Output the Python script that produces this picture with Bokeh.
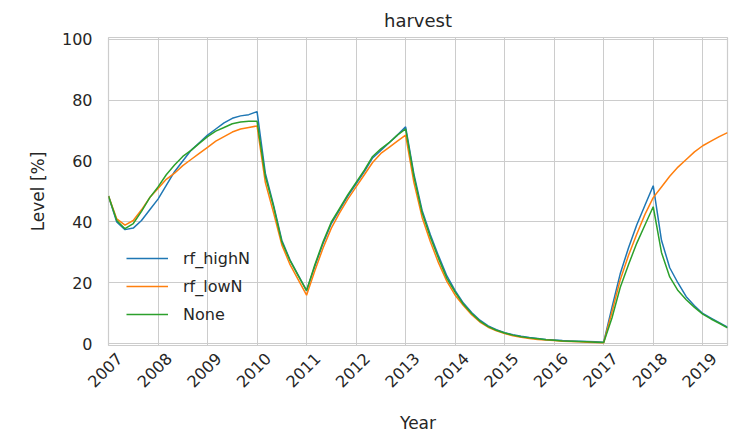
import math
from bokeh.plotting import figure
from bokeh.models import (Range1d, FixedTicker, Legend, LegendItem, ColumnDataSource,
                          CustomJSTickFormatter)
from bokeh.embed import file_html
from bokeh.resources import INLINE

# time index: every two months from Jan 2007 to Jul 2019
n_points = 76
time = [2007 + i / 6 for i in range(n_points)]

rf_highN = [
    48.5, 40.0, 37.5, 38.0, 40.5, 44.0,
    47.5, 52.0, 56.5, 60.0, 63.5, 66.0,
    68.5, 70.5, 72.5, 74.0, 74.8, 75.2,
    76.2, 56.0, 45.5, 34.0, 27.5, 22.5,
    17.5, 25.5, 33.0, 39.5, 44.0, 48.5,
    52.5, 56.5, 61.0, 63.5, 66.0, 68.5,
    71.2, 55.8, 43.8, 35.8, 28.8, 22.3,
    17.5, 13.4, 10.3, 7.8, 5.9, 4.7,
    3.7, 3.0, 2.5, 2.1, 1.8, 1.5,
    1.3, 1.1, 1.0, 0.9, 0.8, 0.7,
    0.6, 12.0, 23.0, 31.5, 39.0, 45.5,
    51.9, 34.0, 25.0, 20.0, 15.5, 12.5,
    10.0, 8.5, 7.0, 5.5,
]

rf_lowN = [
    48.5, 41.0, 39.0, 40.5, 44.0, 48.0,
    51.0, 54.0, 56.0, 58.5, 60.5, 62.5,
    64.5, 66.5, 68.0, 69.5, 70.5, 71.0,
    71.5, 53.0, 43.0, 32.5, 26.0, 21.0,
    16.0, 24.0, 31.5, 38.0, 43.0, 47.5,
    51.5, 55.5, 59.5, 62.5, 64.5, 66.5,
    68.5, 53.0, 41.5, 33.5, 26.5, 20.5,
    16.0, 12.6, 9.6, 7.2, 5.5, 4.3,
    3.4, 2.7, 2.2, 1.8, 1.5, 1.3,
    1.1, 0.9, 0.8, 0.7, 0.6, 0.5,
    0.4, 10.5, 21.0, 29.0, 36.0, 42.5,
    48.0, 51.5, 55.0, 58.0, 60.5, 63.0,
    65.0, 66.5, 68.0, 69.3,
]

none = [
    48.5, 40.5, 37.8, 39.5, 43.5, 48.0,
    51.5, 55.5, 58.7, 61.5, 63.5, 65.8,
    68.0, 69.8, 71.0, 72.2, 72.8, 73.0,
    73.0, 55.0, 45.0, 33.5, 27.3, 22.3,
    17.5, 26.0, 33.5, 40.0, 44.5, 49.0,
    53.0, 57.0, 61.5, 64.0, 66.0, 68.5,
    70.5, 55.0, 43.0, 35.0, 28.0, 21.5,
    17.0, 13.0, 10.0, 7.5, 5.7, 4.5,
    3.6, 2.9, 2.4, 2.0, 1.7, 1.4,
    1.2, 1.0, 0.9, 0.8, 0.7, 0.6,
    0.5, 8.5, 18.5, 26.0, 33.0, 39.0,
    45.0, 30.0, 22.0, 17.5, 14.5, 12.0,
    9.8, 8.2, 6.8, 5.3,
]

year_ticks = list(range(2007, 2020))
y_ticks = [0, 20, 40, 60, 80, 100]

series_names = ["rf_highN", "rf_lowN", "None"]
series_colors = ["#1f77b4", "#ff7f0e", "#2ca02c"]

FONT = "DejaVu Sans"
TXT = "#262626"
GRID = "#cccccc"
LABEL_SHIFT = 0.22  # rotated year labels are centred on their grid line

source = ColumnDataSource(dict(t=time, rf_highN=rf_highN, rf_lowN=rf_lowN, none=none))

p = figure(width=735, height=435,
           x_range=Range1d(2007, 2019.5), y_range=Range1d(-0.5, 100.5),
           output_backend="svg", toolbar_location=None,
           min_border_left=108, min_border_right=8,
           min_border_top=36, min_border_bottom=89,
           title="harvest")

p.background_fill_color = "white"
p.border_fill_color = "white"
p.outline_line_color = GRID
p.outline_line_width = 1.2

p.title.align = "center"
p.title.text_font = FONT
p.title.text_font_size = "18px"
p.title.text_font_style = "normal"
p.title.text_color = TXT
p.title.standoff = 14

for ax in (p.xaxis[0], p.yaxis[0]):
    ax.axis_line_color = None
    ax.major_tick_line_color = None
    ax.minor_tick_line_color = None
    ax.major_tick_out = 0
    ax.major_tick_in = 0
    ax.minor_tick_out = 0
    ax.minor_tick_in = 0
    ax.major_label_text_font = FONT
    ax.major_label_text_font_size = "16px"
    ax.major_label_text_color = TXT
    ax.axis_label_text_font = FONT
    ax.axis_label_text_font_size = "17px"
    ax.axis_label_text_font_style = "normal"
    ax.axis_label_text_color = TXT

p.xaxis.ticker = FixedTicker(ticks=[y + LABEL_SHIFT for y in year_ticks])
p.xaxis.formatter = CustomJSTickFormatter(code="return String(Math.floor(tick));")
p.xaxis.major_label_orientation = math.pi / 4
p.xaxis.major_label_standoff = 10
p.xaxis.axis_label = "Year"
p.xaxis.axis_label_standoff = 17

p.yaxis.ticker = FixedTicker(ticks=y_ticks)
p.yaxis.major_label_standoff = 16
p.yaxis.axis_label = "Level [%]"
p.yaxis.axis_label_standoff = 11

p.xgrid.ticker = FixedTicker(ticks=year_ticks)
p.xgrid.grid_line_color = GRID
p.ygrid.grid_line_color = GRID
p.xgrid.grid_line_width = 1
p.ygrid.grid_line_width = 1

renderers = []
for col, color in zip(["rf_highN", "rf_lowN", "none"], series_colors):
    r = p.line("t", col, source=source, line_color=color, line_width=1.5)
    renderers.append(r)

legend = Legend(items=[LegendItem(label=nm, renderers=[r]) for nm, r in zip(series_names, renderers)],
                location=(18, 21))
legend.background_fill_alpha = 0
legend.border_line_alpha = 0
legend.padding = 0
legend.margin = 0
legend.spacing = 8
legend.glyph_width = 42
legend.glyph_height = 20
legend.label_height = 20
legend.label_standoff = 15
legend.label_text_font = FONT
legend.label_text_font_size = "16px"
legend.label_text_color = TXT
p.add_layout(legend)

open("out.html", "w").write(file_html(p, INLINE))
